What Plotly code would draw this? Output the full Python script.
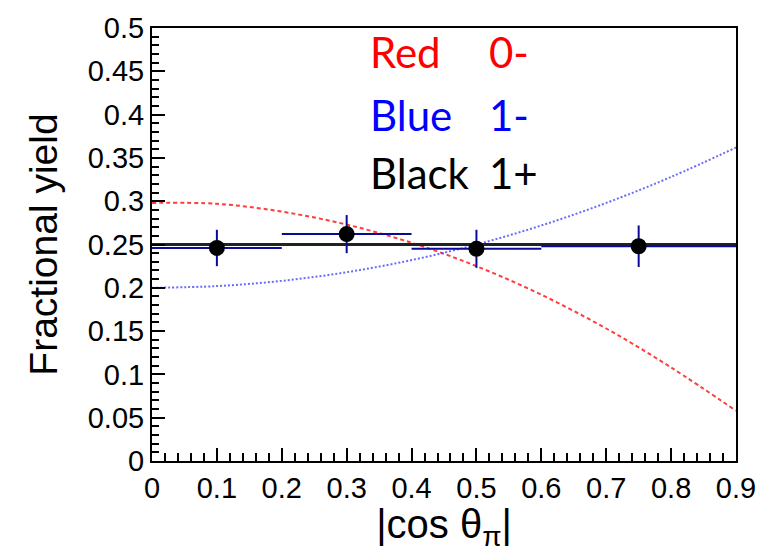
import plotly.graph_objects as go

# Measured fractional yields per |cos theta_pi| bin
bin_centers = [0.1, 0.3, 0.5, 0.75]
bin_lo = [0.0, 0.2, 0.4, 0.6]
bin_hi = [0.2, 0.4, 0.6, 0.9]
yield_vals = [0.246, 0.262, 0.245, 0.248]
yield_errs = [0.021, 0.022, 0.022, 0.024]

# Expected shapes for the spin-parity hypotheses
curve_x = [0.0, 0.1, 0.2, 0.3, 0.4, 0.5, 0.6, 0.7, 0.8, 0.9]
red_0minus = [0.298, 0.297, 0.288, 0.273, 0.252, 0.225, 0.192, 0.153, 0.108, 0.058]
blue_1minus = [0.200, 0.202, 0.208, 0.218, 0.232, 0.250, 0.272, 0.298, 0.328, 0.362]
flat_x = [0.0, 0.9]
black_1plus = [0.25, 0.25]

legend_names = ["Red", "Blue", "Black"]
legend_codes = ["0-", "1-", "1+"]
legend_colors = ["#ff0000", "#0000ff", "#000000"]
legend_y = [0.472, 0.400, 0.333]

fig = go.Figure()

fig.add_trace(go.Scatter(
    x=curve_x, y=red_0minus, mode="lines", line_shape="spline",
    line=dict(color="rgba(255,40,40,0.9)", width=2, dash="4px,3px"),
    showlegend=False, hoverinfo="skip"))
fig.add_trace(go.Scatter(
    x=curve_x, y=blue_1minus, mode="lines", line_shape="spline",
    line=dict(color="rgba(70,70,250,0.8)", width=2, dash="2px,2px"),
    showlegend=False, hoverinfo="skip"))
fig.add_trace(go.Scatter(
    x=flat_x, y=black_1plus, mode="lines",
    line=dict(color="#222222", width=3),
    showlegend=False, hoverinfo="skip"))

err_plus_x = [h - c for h, c in zip(bin_hi, bin_centers)]
err_minus_x = [c - l for c, l in zip(bin_centers, bin_lo)]
fig.add_trace(go.Scatter(
    x=bin_centers, y=yield_vals, mode="markers",
    marker=dict(color="black", size=16),
    error_x=dict(type="data", symmetric=False, array=err_plus_x,
                 arrayminus=err_minus_x, color="#0a0a9a", thickness=2, width=0),
    error_y=dict(type="data", array=yield_errs, color="#0a0a9a",
                 thickness=2, width=0),
    showlegend=False))

annotations = []
for name, code, col, yy in zip(legend_names, legend_codes, legend_colors, legend_y):
    annotations.append(dict(x=0.3325, y=yy, xref="x", yref="y", text=name,
                            showarrow=False, xanchor="left", yanchor="middle",
                            font=dict(family="Lato", size=42, color=col)))
    annotations.append(dict(x=0.5155, y=yy, xref="x", yref="y", text=code,
                            showarrow=False, xanchor="left", yanchor="middle",
                            font=dict(family="Lato", size=42, color=col)))

label_family = "Liberation Sans, Arial, sans-serif"
axis_font = dict(family=label_family, size=29, color="black")

fig.update_layout(
    width=768, height=552,
    margin=dict(l=152, r=26, t=20, b=90),
    paper_bgcolor="white", plot_bgcolor="white",
    annotations=annotations,
    xaxis=dict(
        range=[0, 0.9], dtick=0.1, tick0=0, ticks="inside", ticklen=13,
        tickwidth=1.5, tickcolor="black",
        minor=dict(dtick=0.02, ticks="inside", ticklen=8, tickcolor="black"),
        showline=True, linecolor="black", linewidth=2, mirror=True,
        showgrid=False, zeroline=False, tickfont=axis_font,
        title=dict(text="|cos θ<sub>π</sub>|",
                   font=dict(family=label_family, size=40, color="black"),
                   standoff=8),
    ),
    yaxis=dict(
        range=[0, 0.5], dtick=0.05, tick0=0, ticks="inside", ticklen=13,
        tickwidth=1.5, tickcolor="black",
        minor=dict(dtick=0.01, ticks="inside", ticklen=7, tickcolor="black"),
        showline=True, linecolor="black", linewidth=2, mirror=True,
        showgrid=False, zeroline=False, tickfont=axis_font,
        title=dict(text="Fractional yield",
                   font=dict(family=label_family, size=39, color="black"),
                   standoff=18),
    ),
)

fig.write_html("out.html")
